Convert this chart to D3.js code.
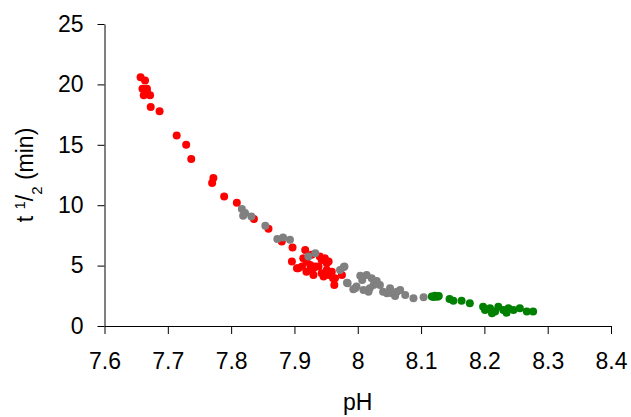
<!DOCTYPE html>
<html>
<head>
<meta charset="utf-8">
<script src="https://cdn.jsdelivr.net/npm/d3@7"></script>
<style>
  body { margin: 0; background: #fff; }
  svg text { font-family: "Liberation Sans", Arial, sans-serif; }
</style>
</head>
<body>
<svg id="chart"></svg>
<script>
// tick labels
var xTicks = [7.6, 7.7, 7.8, 7.9, 8.0, 8.1, 8.2, 8.3, 8.4];
var yTicks = [0, 5, 10, 15, 20, 25];

// red series [pH, t1/2]
var redPts = [
  [7.657, 20.59], [7.664, 20.32], [7.660, 19.65], [7.667, 19.65], [7.667, 19.40],
  [7.662, 19.10], [7.672, 19.10], [7.673, 18.13], [7.687, 17.77], [7.714, 15.78],
  [7.729, 15.01], [7.737, 13.82], [7.772, 12.25], [7.770, 11.83], [7.789, 10.72],
  [7.809, 10.20], [7.836, 8.85], [7.859, 8.06], [7.880, 6.99], [7.897, 6.49],
  [7.917, 6.30], [7.896, 5.33], [7.914, 5.61], [7.919, 5.33], [7.940, 5.75],
  [7.948, 5.61], [7.904, 4.78], [7.912, 4.92], [7.930, 4.78], [7.938, 4.92],
  [7.930, 4.23], [7.943, 4.37], [7.951, 5.20], [7.959, 4.50], [7.961, 3.96],
  [7.963, 3.40], [7.954, 4.23], [7.919, 4.50], [7.925, 5.06], [7.975, 4.23],
  [7.925, 4.64], [7.933, 4.92], [7.946, 4.09], [7.956, 4.37], [7.964, 3.96],
  [7.951, 4.64], [7.906, 4.78], [7.927, 5.89], [7.943, 5.47], [7.954, 5.33]
];

// grey series
var greyPts = [
  [7.817, 9.68], [7.822, 9.35], [7.819, 9.12], [7.832, 9.06], [7.854, 8.29],
  [7.873, 7.21], [7.882, 7.32], [7.893, 7.13], [7.933, 6.03], [7.922, 5.75],
  [7.972, 4.64], [7.978, 4.89], [7.984, 3.54], [7.996, 3.13], [8.004, 4.16],
  [8.014, 4.23], [8.022, 3.96], [8.030, 3.73], [7.998, 3.26], [8.009, 2.99],
  [8.019, 3.13], [8.035, 3.40], [8.040, 2.84], [8.051, 3.13], [8.054, 2.71],
  [8.062, 2.84], [8.067, 2.99], [8.075, 2.57], [8.088, 2.30], [8.104, 2.38],
  [7.993, 3.04], [8.025, 3.40], [8.046, 2.71], [8.059, 2.49], [8.017, 2.84],
  [8.007, 3.81], [7.979, 4.92], [7.983, 3.59]
];

// green series
var greenPts = [
  [8.122, 2.51], [8.126, 2.43], [8.117, 2.45], [8.120, 2.40], [8.128, 2.48],
  [8.145, 2.24], [8.151, 2.10], [8.164, 2.10], [8.177, 1.88], [8.198, 1.60],
  [8.201, 1.33], [8.209, 1.47], [8.217, 1.19], [8.222, 1.60], [8.230, 1.33],
  [8.238, 1.47], [8.246, 1.33], [8.256, 1.47], [8.267, 1.19], [8.277, 1.19],
  [8.212, 1.05], [8.235, 1.10]
];

var W = 631, H = 417;
var margin = { top: 24, right: 20, bottom: 91, left: 104.5 };
var width = 611 - margin.left;
var height = 326 - margin.top;
var fontSize = "23px";

var svg = d3.select("#chart").attr("width", W).attr("height", H);
var g = svg.append("g")
  .attr("transform", "translate(" + margin.left + "," + margin.top + ")");

var x = d3.scaleLinear().domain([7.6, 8.4]).range([0, width]);
var y = d3.scaleLinear().domain([0, 25]).range([height, 0]);

// x axis
var xAxis = g.append("g")
  .attr("transform", "translate(0," + height + ")")
  .call(d3.axisBottom(x).tickValues(xTicks).tickSize(8).tickSizeOuter(0)
    .tickPadding(19).tickFormat(function (d) { return String(+d.toFixed(1)); }));

// y axis
var yAxis = g.append("g")
  .call(d3.axisLeft(y).tickValues(yTicks).tickSize(7).tickSizeOuter(0).tickPadding(14));

[xAxis, yAxis].forEach(function (a) {
  a.selectAll("path, line").attr("stroke", "#000").attr("stroke-width", 1);
  a.selectAll("text").attr("fill", "#000").style("font-size", fontSize)
    .style("font-family", "'Liberation Sans', Arial, sans-serif");
});

// points
var series = [
  { pts: redPts, color: "#ff0000" },
  { pts: greyPts, color: "#808080" },
  { pts: greenPts, color: "#008000" }
];
series.forEach(function (s) {
  g.append("g").selectAll("circle")
    .data(s.pts)
    .enter()
    .append("circle")
    .attr("cx", function (d) { return x(d[0]); })
    .attr("cy", function (d) { return y(d[1]); })
    .attr("r", 4)
    .attr("fill", s.color);
});

// axis titles
svg.append("text")
  .attr("x", margin.left + width / 2)
  .attr("y", 410)
  .attr("text-anchor", "middle")
  .style("font-size", fontSize)
  .text("pH");

var yt = svg.append("text")
  .attr("transform", "translate(33," + (margin.top + height / 2) + ") rotate(-90)")
  .attr("text-anchor", "middle")
  .style("font-size", fontSize);
yt.append("tspan").text("t ");
yt.append("tspan").attr("baseline-shift", "super").style("font-size", "15px").text("1");
yt.append("tspan").text("/");
yt.append("tspan").attr("baseline-shift", "sub").style("font-size", "15px").text("2");
yt.append("tspan").text(" (min)");
</script>
</body>
</html>
